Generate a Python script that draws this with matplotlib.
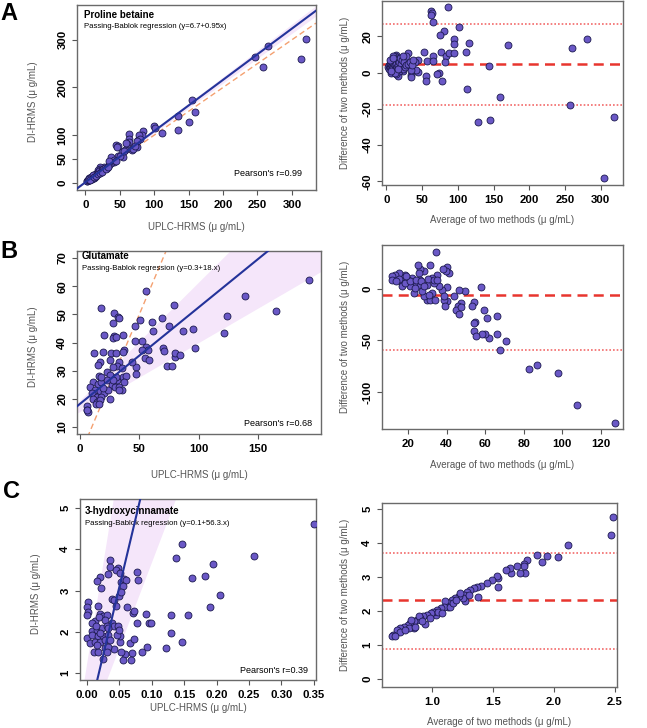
import matplotlib
matplotlib.use('Agg')
import matplotlib.pyplot as plt
import numpy as np

plt.rcParams['font.family'] = ['Liberation Sans', 'DejaVu Sans']

# ---------------- DATA ----------------
# Panel A: Proline betaine (UPLC x, DI y)
A_uplc = [321, 313, 265, 246, 258, 155, 159, 151, 134, 135, 112, 100, 101, 84, 82, 77, 75,
          63, 63, 64, 60, 58, 45, 47, 46, 53, 47, 55, 50, 56, 68, 78, 80, 75, 59,
          41, 38, 34, 37, 41, 35, 31, 27, 22, 22, 19, 17, 13, 12, 8, 7, 3.5, 3, 5, 6, 9,
          10, 11, 14, 15, 16, 18, 20, 24, 26, 29, 2, 4, 6, 8, 10, 12, 14, 6, 9, 11, 5, 7,
          13, 16, 18, 21, 25, 30, 33, 44, 70, 72]
A_di = [301, 259, 287, 264, 243, 173, 148, 127, 140, 110, 105, 119, 115, 109, 100, 90, 76,
        102, 92, 86, 81, 69, 80, 78, 76, 65, 56, 55, 57, 67, 69, 100, 93, 87, 84,
        44, 42, 37, 55, 48, 45, 32, 34, 34, 28, 27, 20, 17, 16, 11, 9, 6, 4, 5, 7, 10,
        12, 14, 15, 18, 19, 22, 24, 26, 30, 31, 3, 6, 5, 8, 9, 11, 13, 10, 13, 16, 8, 6,
        12, 15, 18, 20, 23, 28, 33, 46, 72, 78]
A_reg = (1.0, 1.075)          # drawn regression line (intercept, slope)
A_band = [(0.0, 1.045), (1.5, 1.105)]
A_avg = [86, 63, 64.5, 62, 65, 102, 80, 75, 95, 95, 115, 170, 281, 260, 53, 77, 66, 84, 87,
         94, 112, 30, 14, 57, 66, 82, 45, 40, 74, 71, 78, 55, 56, 35, 34, 44, 41, 34, 24, 17,
         113, 143, 159, 128, 145, 257, 318, 305,
         3, 4, 4, 5, 5, 6, 6, 6, 7, 7, 8, 8, 8, 9, 9, 10, 10, 11, 11, 12, 12, 13, 13, 14, 15,
         15, 16, 17, 18, 18, 19, 20, 21, 22, 23, 25, 26, 28, 30, 33, 36, 38, 27, 23, 10, 5,
         7, 14, 12, 6, 9, 16]
A_diff = [36, 34, 33, 32, 28, 25, 23, 20.5, 18.5, 16, 16.3, 15.2, 18.5, 13.5, 11.3, 11.5, 9.3,
          9.3, 10.7, 10.7, 11.3, 10.7, 9.8, 6.3, 6.3, 5.9, 7, 5.9, -0.4, -0.7, -4.4, -1.9, -4.4,
          -1.3, -2.6, 0.6, 1.5, 1.5, 1.1, -1.7,
          -9.3, 3.7, -13.5, -27, -26, -17.6, -24.4, -58,
          3, 2, 4, 3, 5, 2, 4, 6, 3, 5, 1, 4, 6, 2, 5, 3, 7, 1, 5, 4, 9, 2, 6, 5, 3,
          8, 7, 4, 1, 6, 8, 3, 5, 7, 2, 6, 3, 4, 5, 6, 4, 7, 9, 9, 9, 7,
          0, -1, 0, 1, 8, 2]
A_mean, A_loa = 4.6, (-17.6, 26.6)

# Panel B: Glutamate
B_uplc = [193, 139, 165, 124, 121, 95, 87, 97, 79, 75, 69, 70, 71, 73, 77.5, 80, 80, 84, 61,
          61.6, 50.5, 46, 56, 52, 46, 56, 57, 55, 58, 52, 47, 47.6, 43.5, 36.5, 37, 28.6, 32,
          33, 28, 18, 20.5, 29, 27.5, 30.3, 19.6, 12, 17, 15.4, 26, 30, 36.5, 33, 31.5, 28,
          35.6, 15.7, 22.4, 25, 30.8, 36, 38.7, 37, 11, 15.4, 18, 23, 26.6, 29.4, 33, 35.6,
          33, 8.4, 12.6, 17, 20, 9.8, 14.6, 18, 10.7, 14, 17, 13.5, 16, 25, 24, 19.6, 5.6, 6,
          7, 5.6, 18, 25, 30, 27.5]
B_di = [62.3, 56.6, 51.2, 49.4, 43.3, 44.8, 44.2, 37.9, 53.2, 45.9, 48.7, 38.2, 37.1, 31.7,
        31.7, 35, 36.1, 35.5, 47.2, 44.2, 48, 45.9, 58.4, 40.5, 40.5, 38.5, 37.3, 34.4, 33.8,
        37.3, 31.4, 28.8, 32.9, 42.7, 37.3, 50.6, 49, 48.6, 47.1, 52.3, 42.8, 42.3, 41.5, 42.1,
        36.6, 36.4, 33.2, 32, 36.4, 36.4, 36.6, 33.2, 31.6, 31.4, 31.1, 28.2, 29.6, 28.4, 26.6,
        27.6, 28, 26, 26, 25.4, 26, 26.6, 24.9, 24.3, 24.3, 23.3, 23.1, 24.3, 23.1, 22.7, 21.9,
        21.9, 20.7, 20.7, 20.1, 18.9, 19.5, 18.1, 18.3, 20.1, 23.3, 24, 17.4, 16, 15.3, 16,
        27.8, 33.8, 27.8, 26.6]
B_reg = (18.2, 0.343)
B_band = [(19.5, 0.42), (15.5, 0.245)]
B_avg = [34.7, 127.4, 107.7, 97.7, 86.8, 82.7, 67.8, 70.6, 61.8, 66.1, 66.1, 60, 58.4, 54,
         55.2, 54.5, 54.4, 61, 59.2, 54.4, 53.2, 58, 49.4, 46.3, 47.6, 46, 45, 46.3, 44, 47.6,
         40.2, 40.2, 38.8, 39.4, 37.6, 40.2, 41, 39.9, 38.1, 35, 35.9, 33.3, 32.4, 31.2, 28.5,
         26, 25.2, 25.5, 26.4, 29.8, 30.2, 32.4, 29.8, 31.6, 34.2, 28.5, 31, 27.3, 25, 22.9,
         22, 21.2, 19.8, 18.6, 17.4, 16, 15.2, 13.4, 11.7, 11.7, 16.9, 16.9, 18.6, 21.2, 22.9,
         24.3, 26.9, 33.6, 35, 38.8, 28.5, 23.8, 15.2, 13.8, 19.1]
B_diff = [35.8, -130, -112.7, -81.4, -73.6, -77.5, -59, -50.2, -47.9, -43.6, -26, -43.6,
          -43.6, -40.4, -45.6, -31.9, -33.2, -28.3, -20.2, -12.7, -16.9, 1.6, -2.3, -0.7,
          -13.7, -16.9, -20.2, -24.1, -7.2, -17.6, 2, -11.4, -10.4, -16.3, -0.7, 21.5, 15.6,
          17.3, 19.5, 14, 3.3, 5.9, 10.7, 22.8, 17.3, 19.5, 22.8, 15.6, 9.1, 4.2, 9.8, -3.9,
          -10.4, -11, -11, -7.2, -5.5, -2.3, 4.2, 5.9, 10.7, 2.6, 9.1, 14, 10.7, 12.4, 15.6,
          14, 12.4, 8.5, 5.9, 3.3, 5.9, 7.5, -3.9, 9.1, 7.5, 9.1, 8.5, -6.5, 3.3, 1, 9.8,
          7.5, 12.4]
B_mean, B_loa = -6.2, (-59.3,)

# Panel C: 3-hydroxycinnamate
C_uplc = [0.35, 0.258, 0.146, 0.138, 0.194, 0.162, 0.182, 0.205, 0.190, 0.156, 0.130, 0.129,
          0.146, 0.122, 0.092, 0.085, 0.077, 0.096, 0.099, 0.091, 0.077, 0.078, 0.062, 0.071,
          0.072, 0.069, 0.067, 0.072, 0.068, 0.059, 0.055, 0.052, 0.051, 0.051, 0.046, 0.041,
          0.036, 0.035, 0.048, 0.044, 0.051, 0.032, 0.053, 0.057, 0.060, 0.056, 0.039, 0.041,
          0.044, 0.049, 0.053, 0.020, 0.015, 0.021, 0.017, 0.002, 0.000, 0.002, 0.000, 0.020,
          0.025, 0.031, 0.012, 0.019, 0.028, 0.038, 0.041, 0.047, 0.049, 0.007, 0.015, 0.023,
          0.031, 0.000, 0.008, 0.017, 0.025, 0.033, 0.004, 0.012, 0.020, 0.028, 0.036, 0.010,
          0.017, 0.027, 0.033, 0.025, 0.030, 0.015, 0.033, 0.007, 0.013, 0.020]
C_di = [4.62, 3.84, 4.12, 3.78, 3.64, 3.31, 3.36, 2.90, 2.59, 2.40, 2.40, 1.98, 1.76, 1.60,
        1.62, 1.51, 2.21, 2.21, 2.22, 2.43, 3.45, 3.25, 2.61, 2.46, 2.51, 1.48, 1.72, 1.82,
        1.32, 1.47, 1.32, 1.52, 1.74, 1.89, 1.93, 1.58, 3.74, 3.56, 3.54, 3.50, 3.43, 3.40,
        3.21, 3.27, 3.25, 3.11, 2.79, 2.77, 2.63, 2.87, 2.97, 3.32, 3.24, 3.07, 2.63, 2.73,
        2.61, 2.49, 2.41, 2.43, 2.38, 2.41, 2.25, 2.37, 2.29, 2.22, 2.14, 2.13, 2.05, 2.01,
        2.05, 2.09, 2.13, 1.85, 1.93, 1.89, 1.89, 1.93, 1.72, 1.76, 1.76, 1.80, 1.80, 1.50,
        1.52, 1.60, 1.64, 1.34, 1.50, 1.68, 2.09, 2.21, 2.13, 1.97]
C_reg = (-0.2, 66.0)
C_band = [(1.22, 97.0), (-0.45, 41.2)]
C_avg = [2.486, 2.467, 2.113, 2.036, 1.946, 1.903, 1.859, 1.777, 1.755, 1.75, 1.76, 1.72,
         1.70, 1.65, 1.64, 1.61, 1.54, 1.53, 1.54, 1.49, 1.45, 1.40, 1.37, 1.38, 1.34, 1.31,
         1.29, 1.26, 1.27, 1.25, 1.22, 1.19, 1.16, 1.14, 1.11, 1.13, 1.10, 1.07, 1.04, 1.035,
         1.01, 0.99, 0.96, 0.93, 0.945, 0.90, 0.88, 0.85, 0.85, 0.82, 0.80, 0.77, 0.74, 0.71,
         0.735, 0.68, 0.67, 0.70, 0.89, 0.92, 0.81, 0.78, 1.15, 1.17, 1.30, 1.05, 1.08, 0.86,
         0.83, 0.98, 1.20, 1.23]
C_diff = [4.76, 4.23, 3.95, 3.58, 3.61, 3.43, 3.65, 3.51, 3.39, 3.31, 3.13, 3.11, 3.33, 3.13,
          3.26, 3.21, 2.97, 3.02, 2.70, 2.90, 2.82, 2.74, 2.72, 2.40, 2.67, 2.62, 2.57, 2.48,
          2.28, 2.38, 2.43, 2.38, 2.33, 2.23, 2.28, 2.13, 2.13, 2.08, 2.03, 1.89, 1.98, 1.94,
          1.89, 1.84, 1.62, 1.79, 1.74, 1.69, 1.49, 1.64, 1.59, 1.54, 1.49, 1.44, 1.39, 1.30,
          1.25, 1.25, 1.84, 1.69, 1.49, 1.44, 2.13, 2.23, 2.48, 1.98, 1.94, 1.54, 1.74, 1.79,
          2.33, 2.52]
C_mean, C_loa = 2.31, (0.88, 3.70)

# text
names = ['Proline betaine', 'Glutamate', '3-hydroxycinnamate']
regtxt = ['Passing-Bablok regression (y=6.7+0.95x)',
          'Passing-Bablok regression (y=0.3+18.x)',
          'Passing-Bablok regression (y=0.1+56.3.x)']
pearson = ["Pearson's r=0.99", "Pearson's r=0.68", "Pearson's r=0.39"]
letters = ['A', 'B', 'C']

# ticks
A_xt = [0, 50, 100, 150, 200, 250, 300]; A_yt = [0, 50, 100, 200, 300]
A_bxt = [0, 50, 100, 150, 200, 250, 300]; A_byt = [-60, -40, -20, 0, 20]
B_xt = [0, 50, 100, 150]; B_yt = [10, 20, 30, 40, 50, 60, 70]
B_bxt = [20, 40, 60, 80, 100, 120]; B_byt = [-100, -50, 0]
C_xt = [0, 0.05, 0.10, 0.15, 0.20, 0.25, 0.30, 0.35]; C_yt = [1, 2, 3, 4, 5]
C_bxt = [1.0, 1.5, 2.0, 2.5]; C_byt = [0, 1, 2, 3, 4, 5]

# ---------------- FIGURE ----------------
W, H = 647, 728
fig = plt.figure(figsize=(W / 100, H / 100), dpi=100)

PT_FACE = '#6A58C6'
PT_EDGE = '#1c1a4e'
LINE_C = '#24339A'
ID_C = '#F4A070'
BAND_C = '#F5E6FA'
RED = '#E8352E'
LOA_C = '#F26A6A'
LAB_C = '#555555'


def add_ax(x0, y0, x1, y1):
    return fig.add_axes([x0 / W, 1 - y1 / H, (x1 - x0) / W, (y1 - y0) / H])


def style(ax, xlim, ylim, xt, yt, xfmt):
    ax.set_xlim(xlim)
    ax.set_ylim(ylim)
    ax.set_xticks(xt)
    ax.set_xticklabels([xfmt.format(v) for v in xt], fontsize=8.2, fontweight='bold')
    ax.set_yticks(yt)
    ax.set_yticklabels([str(v) for v in yt], fontsize=8.2, fontweight='bold',
                       rotation=90, va='center')
    ax.tick_params(axis='both', direction='out', length=3.5, width=0.8, color='#555555')
    ax.tick_params(axis='x', pad=3.5)
    ax.tick_params(axis='y', pad=3.5)
    for s in ax.spines.values():
        s.set_color('#6a6a6a')
        s.set_linewidth(1.0)


def figtext(px, py, s, **kw):
    fig.text(px / W, 1 - py / H, s, **kw)


def scatter(ax, x, y):
    ax.scatter(x, y, s=25, facecolor=PT_FACE, edgecolor=PT_EDGE, linewidth=0.6, zorder=4)


def left_panel(box, xlim, ylim, xt, yt, xfmt, x, y, reg, band, idx, xlab_py, tpos):
    ax = add_ax(*box)
    xx = np.linspace(xlim[0], xlim[1], 300)
    b1 = band[0][0] + band[0][1] * xx
    b2 = band[1][0] + band[1][1] * xx
    ax.fill_between(xx, np.minimum(b1, b2), np.maximum(b1, b2), color=BAND_C, lw=0, zorder=1)
    ax.plot(xx, xx, ls=(0, (4, 2.5)), color=ID_C, lw=1.0, zorder=2)
    scatter(ax, x, y)
    ax.plot(xx, reg[0] + reg[1] * xx, color=LINE_C, lw=1.5, zorder=5)
    style(ax, xlim, ylim, xt, yt, xfmt)
    ax.text(tpos[0], tpos[1], names[idx], transform=ax.transAxes, fontsize=7,
            fontweight='bold', va='center', ha='left', zorder=3)
    ax.text(tpos[0], tpos[2], regtxt[idx], transform=ax.transAxes, fontsize=5.6,
            va='center', ha='left', zorder=3)
    ax.text(tpos[3], tpos[4], pearson[idx], transform=ax.transAxes, fontsize=6.5,
            va='center', ha='right', zorder=3)
    x0, y0, x1, y1 = box
    figtext((x0 + x1) / 2, xlab_py, 'UPLC-HRMS (\u03bc g/mL)', fontsize=7, color=LAB_C,
            ha='center', va='center')
    figtext(x0 - 44, (y0 + y1) / 2 + 4, 'DI-HRMS (\u03bc g/mL)', fontsize=7, color=LAB_C,
            ha='center', va='center', rotation=90)
    return ax


def ba_panel(box, xlim, ylim, xt, yt, xfmt, x, y, mean, loa, xlab_py):
    ax = add_ax(*box)
    for v in loa:
        ax.axhline(v, color=LOA_C, lw=1.2, ls=(0, (1, 1.2)), zorder=2)
    ax.axhline(mean, color=RED, lw=1.8, ls=(0, (4, 2.5)), zorder=2)
    scatter(ax, x, y)
    style(ax, xlim, ylim, xt, yt, xfmt)
    x0, y0, x1, y1 = box
    figtext((x0 + x1) / 2, xlab_py, 'Average of two methods (\u03bc g/mL)', fontsize=7,
            color=LAB_C, ha='center', va='center')
    figtext(345, (y0 + y1) / 2, 'Difference of two methods (\u03bc g/mL)', fontsize=7,
            color=LAB_C, ha='center', va='center', rotation=90)
    return ax


left_panel((77, 5, 316, 190), (-12, 335), (-15, 373), A_xt, A_yt, '{:g}', A_uplc, A_di,
           A_reg, A_band, 0, 227, (0.03, 0.945, 0.885, 0.94, 0.09))
ba_panel((382, 1, 623, 185), (-6, 331), (-62, 39.5), A_bxt, A_byt, '{:g}', A_avg, A_diff,
         A_mean, A_loa, 220)

left_panel((77, 251, 321, 434), (-2.5, 203), (7.5, 72.5), B_xt, B_yt, '{:g}', B_uplc, B_di,
           B_reg, B_band, 1, 475, (0.02, 0.972, 0.905, 0.965, 0.06))
ba_panel((382, 245, 623, 429), (6.5, 131.4), (-136, 42.7), B_bxt, B_byt, '{:g}', B_avg,
         B_diff, B_mean, B_loa, 465)

left_panel((80, 499, 316, 680), (-0.011, 0.3536), (0.83, 5.22), C_xt, C_yt, '{:.2f}', C_uplc,
           C_di, C_reg, C_band, 2, 708, (0.02, 0.934, 0.867, 0.965, 0.05))
ba_panel((382, 503, 617, 687), (0.59, 2.516), (-0.24, 5.18), C_bxt, C_byt, '{:.1f}', C_avg,
         C_diff, C_mean, C_loa, 722)

# panel letters
for lt, (px, py) in zip(letters, [(9, 13), (9, 252), (12, 491)]):
    figtext(px, py, lt, fontsize=17, fontweight='bold', ha='center', va='center')

fig.savefig('out.png', dpi=100)
